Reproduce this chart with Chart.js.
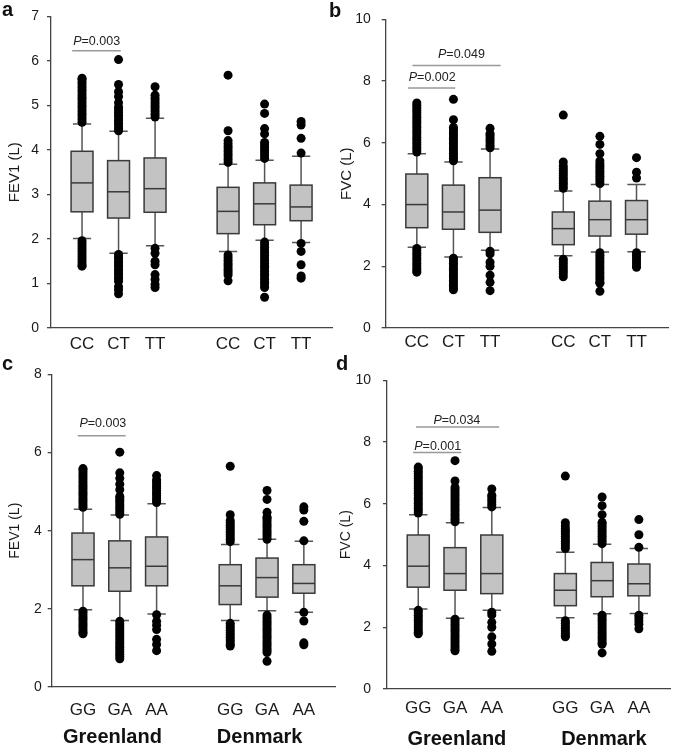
<!DOCTYPE html>
<html>
<head>
<meta charset="utf-8">
<script src="https://cdn.jsdelivr.net/npm/chart.js@4.4.1/dist/chart.umd.min.js"></script>
<style>
  body { margin: 0; background: #fff; width: 675px; height: 747px; position: relative; overflow: hidden; }
  canvas { position: absolute; }
  .tag { position: absolute; font: bold 20px 'Liberation Sans', Arial, sans-serif; line-height: 20px; color: #111; }
</style>
</head>
<body>
<canvas id="chartA" width="337" height="360" style="left:0;top:0"></canvas>
<canvas id="chartB" width="338" height="360" style="left:337px;top:0"></canvas>
<canvas id="chartC" width="340" height="387" style="left:0;top:360px"></canvas>
<canvas id="chartD" width="338" height="387" style="left:337px;top:360px"></canvas>
<div class="tag" style="left:2px;top:-1px">a</div>
<div class="tag" style="left:329px;top:0">b</div>
<div class="tag" style="left:2px;top:353px">c</div>
<div class="tag" style="left:336px;top:353px">d</div>
<script>
// x slots of the six boxes (Greenland 0-2, Denmark 4-6)
const slots = [0, 1, 2, 4, 5, 6];
const genoTop = ['CC', 'CT', 'TT', 'CC', 'CT', 'TT'];
const genoBottom = ['GG', 'GA', 'AA', 'GG', 'GA', 'AA'];
const groupNames = ['Greenland', 'Denmark'];

// box stats: [lower whisker, Q1, median, Q3, upper whisker]
const boxA = [[2.01, 2.61, 3.26, 3.97, 4.58], [1.68, 2.47, 3.06, 3.76, 4.42], [1.85, 2.6, 3.13, 3.82, 4.71],
              [1.72, 2.12, 2.62, 3.16, 3.68], [1.97, 2.32, 2.79, 3.26, 3.77], [1.92, 2.41, 2.72, 3.21, 3.86]];
const boxB = [[2.62, 3.25, 4.0, 4.99, 5.65], [2.3, 3.2, 3.76, 4.63, 5.38], [2.52, 3.1, 3.82, 4.87, 5.8],
              [2.34, 2.7, 3.22, 3.76, 4.44], [2.46, 2.98, 3.51, 4.11, 4.65], [2.47, 3.04, 3.51, 4.13, 4.65]];
const boxC = [[1.98, 2.59, 3.26, 3.94, 4.55], [1.7, 2.45, 3.05, 3.74, 4.4], [1.87, 2.59, 3.09, 3.84, 4.69],
              [1.7, 2.11, 2.59, 3.13, 3.65], [1.95, 2.3, 2.8, 3.3, 3.78], [1.91, 2.4, 2.65, 3.13, 3.73]];
const boxD = [[2.59, 3.3, 3.98, 4.99, 5.65], [2.29, 3.2, 3.74, 4.58, 5.39], [2.55, 3.09, 3.74, 4.99, 5.88],
              [2.31, 2.7, 3.2, 3.74, 4.43], [2.44, 2.99, 3.51, 4.1, 4.69], [2.45, 3.02, 3.41, 4.05, 4.55]];

// outliers per box
const outA = [
  [4.62, 4.68, 4.74, 4.8, 4.86, 4.92, 4.98, 5.04, 5.1, 5.16, 5.22, 5.28, 5.34, 5.4, 5.46, 5.52, 5.58, 5.61,
   1.96, 1.9, 1.84, 1.78, 1.72, 1.66, 1.6, 1.54, 1.48, 1.42, 1.39],
  [4.43, 4.48, 4.54, 4.6, 4.66, 4.72, 4.78, 4.84, 4.9, 4.96, 5.06, 5.2, 5.31, 5.47, 6.03,
   1.65, 1.59, 1.53, 1.47, 1.41, 1.35, 1.29, 1.23, 1.17, 1.11, 1.05, 0.93, 0.86, 0.77],
  [4.74, 4.8, 4.86, 4.92, 4.98, 5.04, 5.1, 5.16, 5.23, 5.42,
   1.79, 1.68, 1.5, 1.42, 1.2, 1.09, 0.98, 0.91],
  [3.72, 3.78, 3.84, 3.9, 3.96, 4.02, 4.08, 4.14, 4.21, 4.43, 5.68,
   1.64, 1.58, 1.52, 1.46, 1.41, 1.35, 1.3, 1.24, 1.19, 1.06],
  [3.81, 3.87, 3.93, 3.99, 4.05, 4.11, 4.17, 4.36, 4.48, 4.82, 5.03,
   1.93, 1.87, 1.81, 1.75, 1.69, 1.63, 1.57, 1.51, 1.45, 1.39, 1.33, 1.27, 1.21, 1.15, 1.09, 1.03, 0.97, 0.91, 0.69],
  [3.93, 4.26, 4.56, 4.64, 1.9, 1.72, 1.42, 1.17, 1.12]
];
const outB = [
  [5.7, 5.78, 5.86, 5.94, 6.02, 6.1, 6.18, 6.26, 6.34, 6.42, 6.5, 6.58, 6.66, 6.74, 6.82, 6.9, 6.98, 7.06, 7.14, 7.22, 7.29,
   2.58, 2.5, 2.42, 2.34, 2.26, 2.18, 2.1, 2.02, 1.94, 1.86, 1.81],
  [5.42, 5.5, 5.58, 5.66, 5.74, 5.82, 5.9, 5.98, 6.06, 6.14, 6.22, 6.3, 6.38, 6.46, 6.5, 6.75, 7.41,
   2.26, 2.18, 2.1, 2.02, 1.94, 1.86, 1.78, 1.7, 1.62, 1.54, 1.46, 1.38, 1.3, 1.24],
  [5.84, 5.92, 6.0, 6.08, 6.16, 6.24, 6.3, 6.47, 2.49, 2.4, 2.13, 2.0, 1.71, 1.48, 1.21],
  [4.53, 4.61, 4.69, 4.77, 4.85, 4.93, 5.01, 5.09, 5.17, 5.25, 5.38, 6.9,
   2.23, 2.15, 2.07, 1.99, 1.91, 1.83, 1.75, 1.66],
  [4.68, 4.76, 4.84, 4.92, 5.0, 5.08, 5.16, 5.24, 5.32, 5.41, 5.65, 5.95, 6.21,
   2.44, 2.36, 2.28, 2.2, 2.12, 2.04, 1.96, 1.88, 1.8, 1.72, 1.64, 1.56, 1.48, 1.45, 1.19],
  [4.86, 5.05, 5.52, 2.44, 2.36, 2.28, 2.2, 2.12, 2.04, 1.97]
];
const outC = [
  [4.6, 4.66, 4.72, 4.78, 4.84, 4.9, 4.96, 5.02, 5.08, 5.14, 5.2, 5.26, 5.32, 5.38, 5.44, 5.5, 5.56, 5.59,
   1.94, 1.88, 1.82, 1.76, 1.7, 1.64, 1.58, 1.52, 1.46, 1.4, 1.36],
  [4.42, 4.48, 4.54, 4.6, 4.66, 4.72, 4.78, 4.84, 4.88, 5.05, 5.19, 5.34, 5.48, 6.01,
   1.68, 1.62, 1.56, 1.5, 1.44, 1.38, 1.32, 1.26, 1.2, 1.14, 1.08, 1.02, 0.96, 0.9, 0.84, 0.78, 0.72],
  [4.72, 4.78, 4.84, 4.9, 4.96, 5.02, 5.08, 5.14, 5.2, 5.26, 5.3, 5.41,
   1.85, 1.68, 1.58, 1.47, 1.22, 1.09, 0.93],
  [3.72, 3.78, 3.84, 3.9, 3.96, 4.02, 4.08, 4.14, 4.2, 4.26, 4.41, 5.65,
   1.63, 1.57, 1.51, 1.45, 1.39, 1.33, 1.27, 1.21, 1.15, 1.09, 1.05],
  [3.78, 3.84, 3.9, 3.96, 4.02, 4.08, 4.14, 4.2, 4.26, 4.32, 4.35, 4.47, 4.8, 5.03,
   1.84, 1.78, 1.72, 1.66, 1.6, 1.54, 1.48, 1.42, 1.36, 1.3, 1.24, 1.18, 1.12, 1.06, 1.0, 0.94, 0.88, 0.66],
  [3.74, 4.24, 4.53, 4.61, 1.91, 1.69, 1.13, 1.08]
];
const outD = [
  [5.7, 5.78, 5.86, 5.94, 6.02, 6.1, 6.18, 6.26, 6.34, 6.42, 6.5, 6.58, 6.66, 6.74, 6.82, 6.9, 6.98, 7.06, 7.14, 7.19,
   2.55, 2.47, 2.39, 2.31, 2.23, 2.15, 2.07, 1.99, 1.91, 1.83, 1.79],
  [5.42, 5.5, 5.58, 5.66, 5.74, 5.82, 5.9, 5.98, 6.06, 6.14, 6.22, 6.3, 6.38, 6.46, 6.53, 6.74, 7.4,
   2.26, 2.18, 2.1, 2.02, 1.94, 1.86, 1.78, 1.7, 1.62, 1.54, 1.46, 1.38, 1.3, 1.24],
  [5.9, 5.98, 6.06, 6.14, 6.22, 6.28, 6.48, 2.49, 2.4, 2.16, 2.0, 1.69, 1.46, 1.22],
  [4.55, 4.63, 4.71, 4.79, 4.87, 4.95, 5.03, 5.11, 5.19, 5.28, 5.39, 6.9,
   2.21, 2.13, 2.05, 1.97, 1.89, 1.81, 1.73, 1.69],
  [4.71, 4.79, 4.87, 4.95, 5.03, 5.11, 5.19, 5.27, 5.35, 5.4, 5.65, 5.94, 6.22,
   2.39, 2.31, 2.23, 2.15, 2.07, 1.99, 1.91, 1.83, 1.75, 1.67, 1.59, 1.51, 1.45, 1.17],
  [4.59, 5.0, 5.49, 2.39, 2.3, 2.2, 2.1, 1.95]
];

// significance bars: from/to in slot units, y in litres
const pA = [{ from: -0.27, to: 1.06, y: 6.23, p: '0.003', at: 0.40 }];
const pB = [{ from: -0.24, to: 1.05, y: 7.78, p: '0.002', at: 0.42 },
            { from: -0.12, to: 2.29, y: 8.51, p: '0.049', at: 1.22 }];
const pC = [{ from: -0.14, to: 1.16, y: 6.43, p: '0.003', at: 0.54 }];
const pD = [{ from: -0.14, to: 1.17, y: 7.66, p: '0.001', at: 0.53 },
            { from: -0.06, to: 2.20, y: 8.49, p: '0.034', at: 1.05 }];

Chart.defaults.font.family = "'Liberation Sans', Arial, sans-serif";
Chart.defaults.color = '#1a1a1a';

function boxPlugin(box, tests, lift, groupAt) {
  return {
    id: 'boxplot',
    beforeDatasetsDraw(chart) {
      const { ctx, scales: { x, y } } = chart;
      ctx.save();
      box.forEach((b, i) => {
        const cx = x.getPixelForValue(slots[i]);
        const hw = x.getPixelForValue(slots[i] + 0.3) - cx;
        const cw = x.getPixelForValue(slots[i] + 0.25) - cx;
        const [lo, q1, med, q3, hi] = b.map(v => y.getPixelForValue(v));
        ctx.strokeStyle = '#555';
        ctx.lineWidth = 1.5;
        ctx.beginPath();
        ctx.moveTo(cx, lo); ctx.lineTo(cx, q1);
        ctx.moveTo(cx, q3); ctx.lineTo(cx, hi);
        ctx.moveTo(cx - cw, lo); ctx.lineTo(cx + cw, lo);
        ctx.moveTo(cx - cw, hi); ctx.lineTo(cx + cw, hi);
        ctx.stroke();
        ctx.fillStyle = '#c3c3c3';
        ctx.fillRect(cx - hw, q3, 2 * hw, q1 - q3);
        ctx.strokeStyle = '#3a3a3a';
        ctx.strokeRect(cx - hw, q3, 2 * hw, q1 - q3);
        ctx.beginPath();
        ctx.moveTo(cx - hw, med); ctx.lineTo(cx + hw, med);
        ctx.stroke();
      });
      tests.forEach(t => {
        const py = y.getPixelForValue(t.y);
        ctx.strokeStyle = '#999';
        ctx.lineWidth = 1.5;
        ctx.beginPath();
        ctx.moveTo(x.getPixelForValue(t.from), py);
        ctx.lineTo(x.getPixelForValue(t.to), py);
        ctx.stroke();
        const it = "italic 12.5px 'Liberation Sans', Arial, sans-serif";
        const rm = "12.5px 'Liberation Sans', Arial, sans-serif";
        ctx.font = it;
        const w1 = ctx.measureText('P').width;
        ctx.font = rm;
        const w2 = ctx.measureText('=' + t.p).width;
        let sx = x.getPixelForValue(t.at) - (w1 + w2) / 2;
        ctx.fillStyle = '#222';
        ctx.textBaseline = 'alphabetic';
        ctx.textAlign = 'left';
        ctx.font = it;
        ctx.fillText('P', sx, py - lift);
        ctx.font = rm;
        ctx.fillText('=' + t.p, sx + w1, py - lift);
      });
      ctx.restore();
    },
    afterDraw(chart) {
      if (!groupAt) return;
      const { ctx, scales: { x } } = chart;
      ctx.save();
      ctx.font = "bold 20px 'Liberation Sans', Arial, sans-serif";
      ctx.fillStyle = '#111';
      ctx.textAlign = 'center';
      ctx.textBaseline = 'middle';
      groupNames.forEach((g, i) => {
        ctx.fillText(g, x.getPixelForValue(groupAt[i]), chart.chartArea.bottom + 50);
      });
      ctx.restore();
    }
  };
}

function makePanel(id, o) {
  const points = o.out.flatMap((vals, i) => vals.map(v => ({ x: slots[i], y: v })));
  return new Chart(document.getElementById(id), {
    type: 'scatter',
    data: {
      datasets: [{
        data: points,
        pointRadius: 4.5,
        pointHoverRadius: 4.5,
        backgroundColor: '#000',
        borderWidth: 0
      }]
    },
    options: {
      responsive: false,
      animation: false,
      events: [],
      layout: { padding: o.pad },
      plugins: { legend: { display: false }, tooltip: { enabled: false } },
      scales: {
        x: {
          type: 'linear',
          min: -0.85,
          max: 6.86,
          grid: { display: false, drawTicks: false },
          border: { display: true, color: '#444', width: 1.3 },
          ticks: {
            padding: o.xPad,
            autoSkip: false,
            maxRotation: 0,
            font: { size: 17 },
            callback: (v, i) => o.labels[i]
          },
          afterBuildTicks: s => { s.ticks = slots.map(v => ({ value: v })); },
          afterFit: s => { s.height = o.xH; }
        },
        y: {
          min: 0,
          max: o.yMax,
          ticks: { stepSize: o.step, padding: o.yPad, font: { size: 14 } },
          grid: { display: true, drawOnChartArea: false, drawTicks: true, tickLength: 4, color: '#444', lineWidth: 1.3 },
          border: { display: true, color: '#444', width: 1.3 },
          title: { display: true, text: o.title, font: { size: o.titleSize }, padding: { top: o.titlePad, bottom: 0 } },
          afterFit: s => { s.width = o.yW; }
        }
      }
    },
    plugins: [boxPlugin(o.box, o.tests, o.lift, o.groupAt)]
  });
}

makePanel('chartA', { box: boxA, out: outA, tests: pA, labels: genoTop, yMax: 7, step: 1, title: 'FEV1 (L)',
  titleSize: 15, titlePad: 6, yW: 51, yPad: 8, xPad: 6, xH: 32, lift: 6,
  pad: { left: 0, top: 10, right: 3, bottom: 0 } });
makePanel('chartB', { box: boxB, out: outB, tests: pB, labels: genoTop, yMax: 10, step: 2, title: 'FVC (L)',
  titleSize: 15, titlePad: 1, yW: 48.7, yPad: 11, xPad: 4, xH: 32, lift: 7,
  pad: { left: 0, top: 8, right: 7, bottom: 0 } });
makePanel('chartC', { box: boxC, out: outC, tests: pC, labels: genoBottom, yMax: 8, step: 2, title: 'FEV1 (L)',
  titleSize: 14, titlePad: 7, yW: 51.7, yPad: 6, xPad: 13, xH: 60, lift: 9, groupAt: [0.8, 4.8],
  pad: { left: 0, top: 7, right: 3, bottom: 0 } });
makePanel('chartD', { box: boxD, out: outD, tests: pD, labels: genoBottom, yMax: 10, step: 2, title: 'FVC (L)',
  titleSize: 14, titlePad: 1, yW: 50, yPad: 12, xPad: 9, xH: 58, lift: 2.5, groupAt: [1.05, 5.05],
  pad: { left: 0, top: 9, right: 3, bottom: 0 } });
</script>
</body>
</html>
